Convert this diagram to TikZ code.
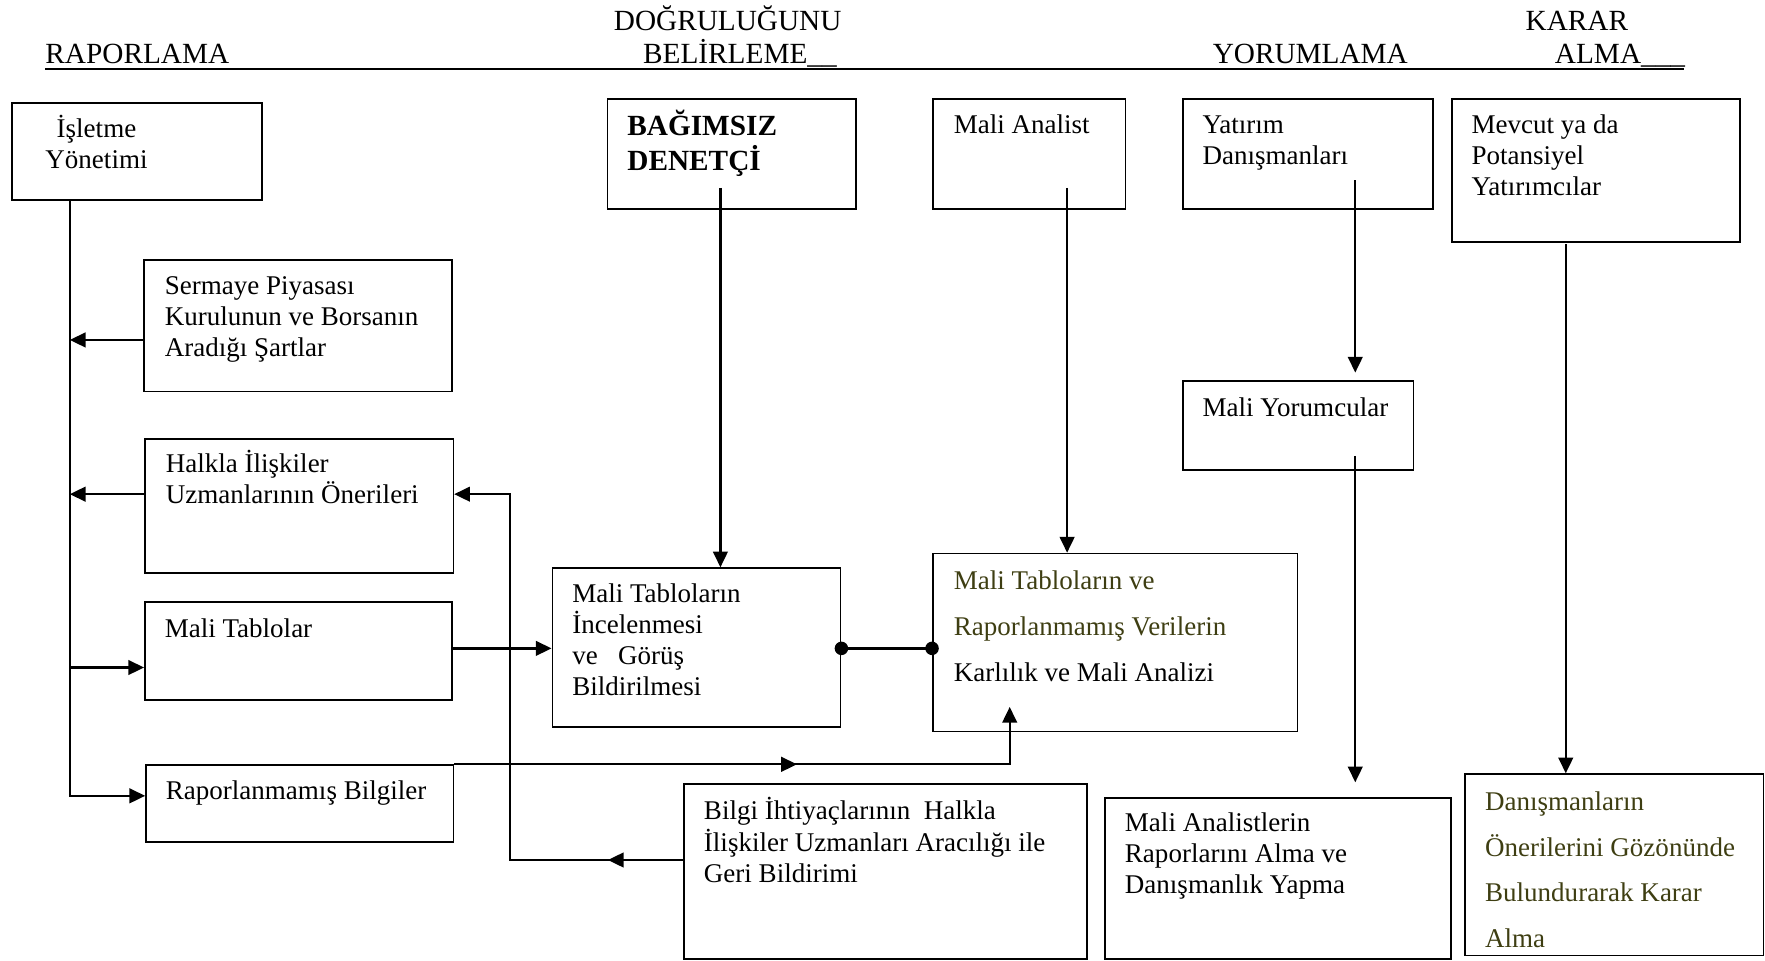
\documentclass[tikz,border=0pt]{standalone}
\usepackage{fontspec}
\setmainfont{Liberation Serif}
\usepackage{xcolor}
\usetikzlibrary{arrows.meta,positioning,calc}
\definecolor{olivetext}{RGB}{62,62,18}
\tikzset{
  box/.style={draw,line width=0.75pt,anchor=north west,inner sep=0pt},
  txt/.style={anchor=base west,inner sep=0pt,font=\fontsize{12}{13.75}\selectfont},
  widetxt/.style={anchor=base west,inner sep=0pt,font=\fontsize{12}{20.3}\selectfont},
  head/.style={anchor=base west,inner sep=0pt,font=\fontsize{13}{15}\selectfont},
  line/.style={line width=1pt},
  arr/.style={line width=1pt,-{Triangle[length=7pt,width=6.5pt]}},
}
\newcommand{\lines}[1]{\begin{tabular}[t]{@{}l@{}}#1\end{tabular}}
\begin{document}
\begin{tikzpicture}[x=0.5pt,y=-0.5pt]
\useasboundingbox (0,0) rectangle (1568,853);
\node[head] (raporh) at (40,56) {RAPORLAMA};
\node[head] (dogruh) at (545,27) {DOĞRULUĞUNU};
\node[head] (belirh) at (571,56) {BELİRLEME\_\_};
\node[head] (yorumh) at (1077,56) {YORUMLAMA};
\node[head] (kararh) at (1355,27) {KARAR};
\node[head] (almah) at (1381,56) {ALMA\_\_\_};
\coordinate (hl) at (40,61);
\coordinate (hr) at (1496,61);
\draw[line width=0.8pt] (hl)--(hr);

\node[box,minimum width=111pt,minimum height=43pt] (isletme) at (10,91) {};
\node[txt] (isletmet) at ($(isletme.north west)+(30,31)$) {\lines{\hspace{5pt}İşletme\\Yönetimi}};
\node[box,minimum width=110.5pt,minimum height=49pt] (denetci) at (539,87) {};
\node[txt,font=\fontsize{13}{15}\selectfont\bfseries] (denetcit) at ($(denetci.north west)+(18,33)$) {\lines{BAĞIMSIZ\\DENETÇİ}};
\node[box,minimum width=85.5pt,minimum height=49pt] (analist) at (828,87) {};
\node[txt] (analistt) at ($(analist.north west)+(19,32)$) {Mali Analist};
\node[box,minimum width=111pt,minimum height=49pt] (danisman) at (1050,87) {};
\node[txt] (danismant) at ($(danisman.north west)+(18,32)$) {\lines{Yatırım\\Danışmanları}};
\node[box,minimum width=128pt,minimum height=63.5pt] (yatirimci) at (1289,87) {};
\node[txt] (yatirimcit) at ($(yatirimci.north west)+(18,32)$) {\lines{Mevcut ya da\\Potansiyel\\Yatırımcılar}};

\node[box,minimum width=137pt,minimum height=58.5pt] (spk) at (127,230) {};
\node[txt] (spkt) at ($(spk.north west)+(19,32)$) {\lines{Sermaye Piyasası\\Kurulunun ve Borsanın\\Aradığı Şartlar}};
\node[box,minimum width=137pt,minimum height=59.5pt] (halkla) at (128,389) {};
\node[txt] (halklat) at ($(halkla.north west)+(19,31)$) {\lines{Halkla İlişkiler\\Uzmanlarının Önerileri}};
\node[box,minimum width=136.5pt,minimum height=43.5pt] (tablolar) at (128,534) {};
\node[txt] (tablolart) at ($(tablolar.north west)+(18,32)$) {Mali Tablolar};
\node[box,minimum width=136.5pt,minimum height=34pt] (raporsuz) at (129,679) {};
\node[txt] (raporsuzt) at ($(raporsuz.north west)+(18,31)$) {Raporlanmamış Bilgiler};

\node[box,minimum width=128pt,minimum height=70.5pt] (inceleme) at (490,504) {};
\node[txt] (incelemet) at ($(inceleme.north west)+(18,31)$) {\lines{Mali Tabloların\\İncelenmesi\\ve\hspace{9pt}Görüş\\Bildirilmesi}};
\node[box,minimum width=162pt,minimum height=79pt] (karlilik) at (828,491) {};
\node[widetxt] (karlilikt) at ($(karlilik.north west)+(19,33)$) {\lines{{\color{olivetext}Mali Tabloların ve}\\{\color{olivetext}Raporlanmamış Verilerin}\\Karlılık ve Mali Analizi}};
\node[box,minimum width=102.5pt,minimum height=39.5pt] (yorumcu) at (1050,338) {};
\node[txt] (yorumcut) at ($(yorumcu.north west)+(18,32)$) {Mali Yorumcular};

\node[box,minimum width=179pt,minimum height=77.5pt] (bildirim) at (607,696) {};
\node[txt] (bildirimt) at ($(bildirim.north west)+(18,32)$) {\lines{Bilgi İhtiyaçlarının\ \ Halkla\\İlişkiler Uzmanları Aracılığı ile\\Geri Bildirimi}};
\node[box,minimum width=153.5pt,minimum height=71.5pt] (rapor) at (981,708) {};
\node[txt] (raport) at ($(rapor.north west)+(18,31)$) {\lines{Mali Analistlerin\\Raporlarını Alma ve\\Danışmanlık Yapma}};
\node[box,minimum width=132.5pt,minimum height=80.5pt] (karar) at (1301,687) {};
\node[widetxt,text=olivetext] (karart) at ($(karar.north west)+(18,33)$) {\lines{Danışmanların\\Önerilerini Gözönünde\\Bulundurarak Karar\\Alma}};

\coordinate (spine) at ($(isletme.south west)+(52,0)$);
\draw[line] (spine)--(spine |- 0,708);
\draw[arr] (spk.west |- 0,302)--(spine |- 0,302);
\draw[arr] (halkla.west |- 0,439)--(spine |- 0,439);
\draw[arr] (spine |- 0,593)--(tablolar.west |- 0,593);
\draw[arr] (spine |- 0,707)--(raporsuz.west |- 0,707);
\draw[arr] (tablolar.east |- 0,576)--(inceleme.west |- 0,576);

\draw[line] (inceleme.east |- 0,576)--(karlilik.west |- 0,576);
\fill (inceleme.east |- 0,576) circle (3pt);
\fill (karlilik.west |- 0,576) circle (3pt);

\coordinate (d1) at (640,167);
\draw[arr] (d1)--(d1 |- inceleme.north);
\coordinate (a1) at (948,167);
\draw[arr] (a1)--(a1 |- karlilik.north);
\coordinate (y1) at (1204,160);
\draw[arr] (y1)--($(y1 |- yorumcu.north)+(0,-7)$);
\coordinate (y2) at (1204,405);
\draw[arr] (y2)--($(y2 |- rapor.north)+(0,-13)$);
\coordinate (m1) at (1391,217);
\draw[arr] (m1)--(m1 |- karar.north);

\coordinate (k1) at (897,628);
\draw[arr] (raporsuz.north east) -| (k1);
\draw[arr] (raporsuz.north east)--(708,679);

\coordinate (b1) at (453,764);
\draw[arr] (bildirim.west |- b1)--(b1) |- (halkla.east |- 0,439);
\draw[arr] (bildirim.west |- b1)--(540,764);
\end{tikzpicture}
\end{document}
